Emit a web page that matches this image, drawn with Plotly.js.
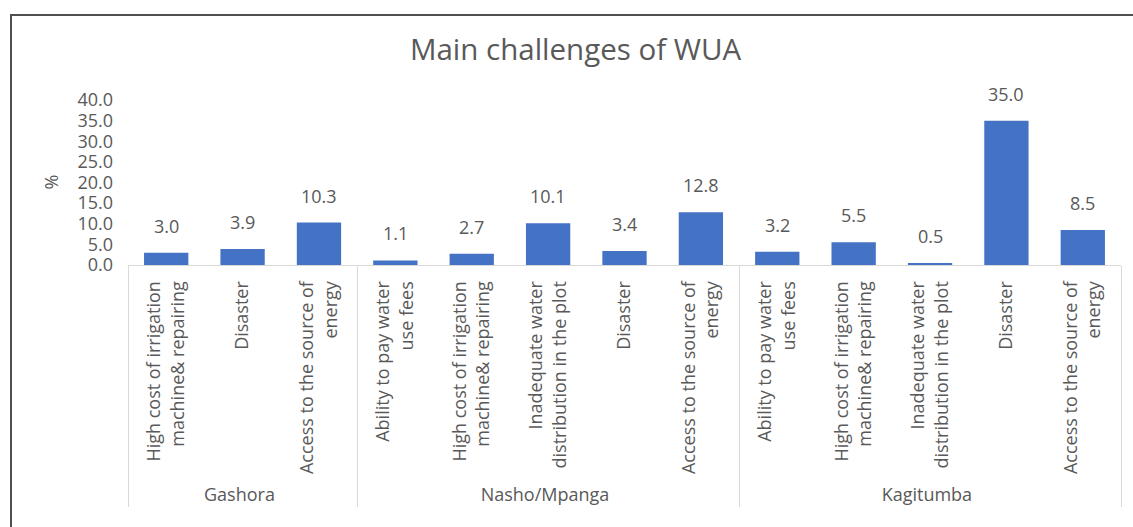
<!DOCTYPE html>
<html>
<head>
<meta charset="utf-8">
<script src="https://cdn.plot.ly/plotly-3.0.1.min.js"></script>
<style>
  html, body { margin: 0; padding: 0; background: #fff; overflow: hidden; }
  #chart { width: 1133px; height: 527px; }
  #frame { position: absolute; left: 10px; top: 14px; width: 1200px; height: 600px;
           border-top: 2px solid #505050; border-left: 2px solid #505050; pointer-events: none; }
</style>
</head>
<body>
<div id="chart"></div>
<div id="frame"></div>
<script>
// sites (outer category level)
var sites = ["Gashora", "Gashora", "Gashora",
  "Nasho/Mpanga", "Nasho/Mpanga", "Nasho/Mpanga", "Nasho/Mpanga", "Nasho/Mpanga",
  "Kagitumba", "Kagitumba", "Kagitumba", "Kagitumba", "Kagitumba"];

// challenges (inner category level)
var challenges = [
  "High cost of irrigation<br>machine& repairing", "Disaster", "Access to the source of<br>energy",
  "Ability to pay water<br>use fees", "High cost of irrigation<br>machine& repairing",
  "Inadequate water<br>distribution in the plot", "Disaster", "Access to the source of<br>energy",
  "Ability to pay water<br>use fees", "High cost of irrigation<br>machine& repairing",
  "Inadequate water<br>distribution in the plot", "Disaster", "Access to the source of<br>energy"
];

// percentages
var percent = [3.0, 3.9, 10.3, 1.1, 2.7, 10.1, 3.4, 12.8, 3.2, 5.5, 0.5, 35.0, 8.5];

var grey = "#595959";
var font = "Open Sans, sans-serif";

// plotly orders inner labels by first appearance over all groups,
// so repeated labels get an invisible zero-width space to keep each group's own order
var seen = {};
var innerLabels = challenges.map(function (c) {
  seen[c] = (seen[c] || 0) + 1;
  return c + new Array(seen[c]).join("\u200b");
});

var bars = {
  type: "bar",
  x: [sites, innerLabels],
  y: percent,
  marker: { color: "#4472C4" },
  hoverinfo: "y"
};

// value labels sit a bit above each bar, like Excel's
var labels = percent.map(function (v, i) {
  return {
    x: i, y: v, xref: "x", yref: "y",
    text: v.toFixed(1), showarrow: false,
    yanchor: "bottom", yshift: 13,
    font: { family: font, size: 18, color: grey }
  };
});

labels.push({
  xref: "paper", yref: "paper", x: 0, y: 0.5, xshift: -78,
  xanchor: "center", text: "%", textangle: -90, showarrow: false,
  font: { family: font, size: 18, color: grey }
});

var layout = {
  title: {
    text: "Main challenges of WUA",
    font: { family: font, size: 29.5, color: grey },
    xref: "container", x: 0.508, xanchor: "center",
    yref: "container", y: 0.905, yanchor: "middle"
  },
  width: 1133,
  height: 527,
  margin: { l: 128, r: 12, t: 100, b: 262 },
  paper_bgcolor: "rgba(0,0,0,0)",
  plot_bgcolor: "rgba(0,0,0,0)",
  bargap: 0.42,
  showlegend: false,
  xaxis: {
    type: "multicategory",
    tickangle: -90,
    showline: true,
    linecolor: "#d9d9d9",
    linewidth: 1,
    showdividers: true,
    dividercolor: "#d9d9d9",
    dividerwidth: 1,
    ticks: "",
    ticklabelstandoff: 8,
    automargin: false,
    tickfont: { family: font, size: 18, color: grey }
  },
  yaxis: {
    range: [0, 40],
    dtick: 5,
    tickformat: ".1f",
    showgrid: false,
    zeroline: false,
    showline: false,
    ticks: "",
    ticklabelstandoff: 14,
    automargin: false,
    tickfont: { family: font, size: 18, color: grey }
  },
  annotations: labels
};

Plotly.newPlot("chart", [bars], layout, { displayModeBar: false, staticPlot: true });
</script>
</body>
</html>
